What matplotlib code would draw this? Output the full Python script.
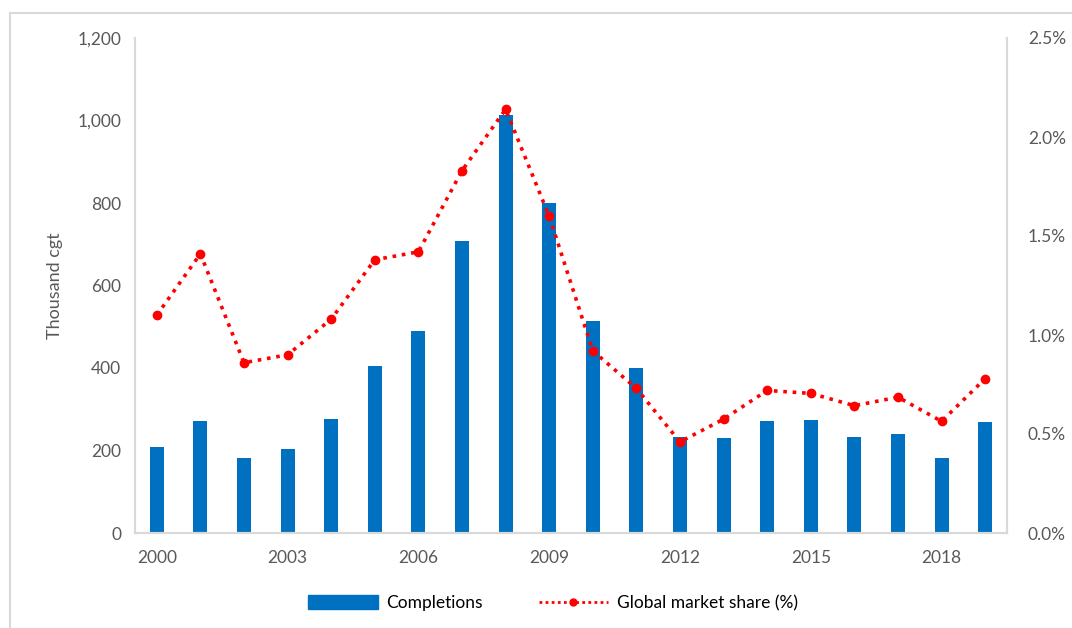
import numpy as np
import matplotlib.pyplot as plt
from matplotlib.lines import Line2D
from matplotlib.ticker import FuncFormatter

years = list(range(2000, 2020))
completions = [209, 272, 182, 203, 276, 406, 489, 707, 1014, 801,
               513, 400, 232, 230, 272, 274, 232, 241, 181, 269]
share = [1.10, 1.41, 0.86, 0.90, 1.08, 1.38, 1.42, 1.83, 2.14, 1.60,
         0.92, 0.73, 0.46, 0.575, 0.72, 0.705, 0.643, 0.686, 0.564, 0.78]

plt.rcParams['font.family'] = ['Lato', 'DejaVu Sans']
grey = '#595959'
axc = '#d9d9d9'

fig = plt.figure(figsize=(10.72, 6.28), dpi=100)
ax = fig.add_axes([135 / 1072, 1 - 533 / 628, (1007 - 135) / 1072, (533 - 38) / 628])
x = np.arange(len(years))
ax.bar(x, completions, width=0.32, color='#0070c0', label='Completions', zorder=2)
ax.set_xlim(-0.5, len(years) - 0.5)
ax.set_ylim(0, 1200)
ax.set_yticks(range(0, 1201, 200))
ax.yaxis.set_major_formatter(FuncFormatter(lambda v, p: f'{int(v):,}'))
ax.set_xticks(x[::3])
ax.set_xticklabels([str(y) for y in years[::3]])
ax.set_ylabel('Thousand cgt', color=grey, fontsize=13, labelpad=10)

ax2 = ax.twinx()
ax2.plot(x, share, linestyle=(0, (1, 1.6)), color='#ff0000', linewidth=2.6,
         marker='o', markersize=6, zorder=3)
ax2.set_ylim(0, 2.5)
ax2.set_yticks(np.arange(0, 2.51, 0.5))
ax2.yaxis.set_major_formatter(FuncFormatter(lambda v, p: f'{v:.1f}%'))

for a in (ax, ax2):
    for s in a.spines.values():
        s.set_color(axc)
        s.set_linewidth(1.5)
    a.spines['top'].set_visible(False)
    a.tick_params(length=0, colors=grey, labelsize=12.5)
ax.tick_params(axis='x', pad=12)
ax.tick_params(axis='y', pad=10)
ax2.tick_params(axis='y', pad=15)

handles = [plt.Rectangle((0, 0), 1, 1, color='#0070c0'),
           Line2D([0], [0], linestyle=(0, (1, 1.2)), color='#ff0000', linewidth=2,
                  marker='o', markersize=5)]
leg = fig.legend(handles, ['Completions', 'Global market share (%)'], loc='center',
                 bbox_to_anchor=(0.516, 1 - 603 / 628), ncol=2, frameon=False,
                 fontsize=12.5, handlelength=4.0, handleheight=0.9, columnspacing=3.2,
                 handletextpad=0.5)
for t in leg.get_texts():
    t.set_color('#000000')

fig.add_artist(Line2D([10 / 1072, 10 / 1072], [0, 1 - 13 / 628], color=axc, linewidth=1.5))
fig.add_artist(Line2D([10 / 1072, 1], [1 - 13 / 628, 1 - 13 / 628], color=axc, linewidth=1.5))

fig.savefig('out.png', dpi=100)
